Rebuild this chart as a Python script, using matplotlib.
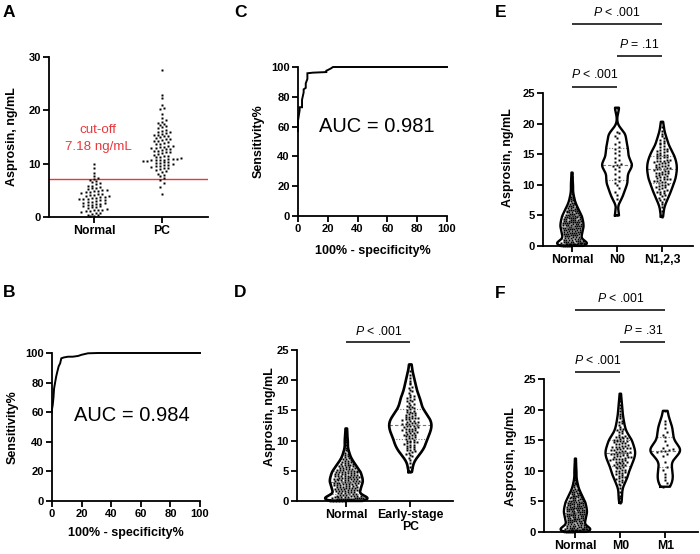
import numpy as np
import matplotlib
matplotlib.use("Agg")
import matplotlib.pyplot as plt
from matplotlib import cbook, mlab

plt.rcParams['font.family'] = ['Liberation Sans', 'DejaVu Sans']
plt.rcParams['font.weight'] = 'bold'
plt.rcParams['mathtext.fontset'] = 'custom'
plt.rcParams['mathtext.it'] = 'Liberation Sans:style=italic:weight=normal'
plt.rcParams['mathtext.rm'] = 'Liberation Sans:weight=normal'

# ---------------- data ----------------
# Panel A: column scatter
a_categories = ['Normal', 'PC']
a_normal = [0.1, 0.2, 0.3, 0.4, 0.6, 0.7, 0.8, 1.0, 1.1, 1.2, 1.3, 1.4, 1.4, 1.5, 1.7,
            1.8, 1.9, 2.0, 2.1, 2.2, 2.3, 2.4, 2.5, 2.6, 2.7, 2.8, 2.9, 3.0, 3.1, 3.2,
            3.3, 3.3, 3.4, 3.5, 3.6, 3.7, 3.8, 3.9, 4.0, 4.1, 4.2, 4.3, 4.4, 4.5, 4.6,
            4.7, 4.8, 4.9, 5.0, 5.1, 5.2, 5.4, 5.5, 5.6, 5.8, 5.9, 6.1, 6.3, 6.5, 6.7,
            7.0, 7.2, 7.3, 7.6, 8.3, 9.1, 9.9]
a_pc = [4.4, 5.7, 6.3, 6.9, 7.3, 7.6, 7.9, 8.1, 8.4, 8.6, 8.8, 9.0, 9.1, 9.2, 9.3, 9.5,
        9.6, 9.7, 9.8, 9.9, 10.1, 10.2, 10.4, 10.4, 10.5, 10.5, 10.6, 10.6, 10.7, 10.7,
        10.8, 10.8, 10.9, 11.0, 11.2, 11.3, 11.4, 11.5, 11.7, 11.8, 12.0, 12.1, 12.2,
        12.3, 12.4, 12.5, 12.7, 12.8, 12.9, 13.0, 13.1, 13.2, 13.3, 13.4, 13.6, 13.7,
        13.9, 14.0, 14.2, 14.3, 14.5, 14.6, 14.7, 14.8, 15.0, 15.1, 15.2, 15.3, 15.4,
        15.5, 15.7, 15.9, 16.0, 16.2, 16.4, 16.6, 16.8, 17.0, 17.2, 17.5, 17.7, 17.9,
        18.2, 18.5, 19.4, 20.2, 20.5, 21.0, 22.3, 22.8, 27.6]
a_cutoff = 7.18

# Panels B, C: ROC curves
b_fpr = [0, 0, 0.5, 1.0, 1.4, 2.2, 2.8, 3.6, 4.5, 5.5, 6.3, 8.0, 10.8, 14.0, 17.6, 20.0, 24.3, 31.0, 100]
b_tpr = [60, 62, 65, 70, 76, 80.6, 84, 87.4, 91, 93, 96.4, 97, 97.5, 97.5, 98, 98.8, 99.8, 100, 100]
b_auc = 0.984
c_fpr = [0, 0, 1.1, 1.1, 2.7, 2.7, 3.8, 3.8, 5.2, 5.2, 6.3, 6.3, 10.0, 19.0, 19.0, 20.1, 22.0, 23.5, 100]
c_tpr = [57, 64, 71, 73, 73, 78, 83, 85, 86, 89, 92, 95.8, 96.2, 96.6, 97.5, 98, 99, 100, 100]
c_auc = 0.981

# Panels D, E, F: violins
normal_v = [0.02, 0.04, 0.05, 0.07, 0.08, 0.1, 0.12, 0.13, 0.15, 0.17, 0.19, 0.2, 0.22,
            0.23, 0.25, 0.26, 0.28, 0.3, 0.32, 0.33, 0.35, 0.37, 0.4, 0.42, 0.44,
            0.46, 0.5, 0.52, 0.56, 0.6, 0.62, 0.66, 0.7, 0.73, 0.75, 0.8, 0.82, 0.86, 0.9,
            0.93, 0.97, 1.02, 1.08, 1.13, 1.18, 1.25, 1.3, 1.36, 1.42, 1.47, 1.52, 1.58,
            1.62, 1.68, 1.72, 1.76, 1.81, 1.85, 1.9, 1.94, 1.98, 2.02, 2.06, 2.1, 2.14,
            2.19, 2.22, 2.26, 2.3, 2.35, 2.4, 2.45, 2.5, 2.55, 2.6, 2.64, 2.68, 2.72, 2.77,
            2.8, 2.84, 2.88, 2.92, 2.95, 2.98, 3.02, 3.06, 3.1, 3.13, 3.16, 3.2, 3.24, 3.28,
            3.32, 3.36, 3.4, 3.44, 3.48, 3.52, 3.56, 3.6, 3.64, 3.68, 3.72, 3.76, 3.8, 3.84,
            3.88, 3.92, 3.95, 3.98, 4.02, 4.06, 4.1, 4.14, 4.18, 4.22, 4.26, 4.3, 4.35,
            4.4, 4.45, 4.5, 4.55, 4.6, 4.64, 4.68, 4.72, 4.76, 4.8, 4.84, 4.88, 4.92, 4.95,
            4.98, 5.03, 5.08, 5.14, 5.2, 5.25, 5.3, 5.36, 5.42, 5.48, 5.54, 5.6, 5.66,
            5.72, 5.78, 5.84, 5.9, 5.95, 5.99, 6.05, 6.14, 6.22, 6.3, 6.4, 6.5, 6.6, 6.7,
            6.8, 6.88, 6.96, 7.1, 7.3, 7.45, 7.6, 7.8, 7.95, 8.2, 8.5, 8.85, 9.3, 9.8,
            10.1, 10.6, 11.3, 12.0]
early_pc = [4.8, 5.6, 6.3, 6.8, 7.1, 7.4, 7.6, 7.8, 7.9, 8.1, 8.2, 8.4, 8.5, 8.6, 8.8, 8.9,
            8.95, 9.1, 9.2, 9.3, 9.5, 9.6, 9.7, 9.8, 9.8, 9.9, 10.0, 10.1, 10.3, 10.4, 10.5,
            10.6, 10.7, 10.8, 10.9, 10.95, 11.0, 11.1, 11.2, 11.3, 11.4, 11.5, 11.6, 11.6,
            11.7, 11.8, 11.9, 11.95, 12.0, 12.1, 12.2, 12.3, 12.4, 12.5, 12.5, 12.6, 12.7,
            12.8, 12.8, 12.9, 12.95, 13.0, 13.1, 13.2, 13.3, 13.4, 13.5, 13.6, 13.7, 13.7,
            13.8, 13.9, 13.95, 14.0, 14.2, 14.3, 14.4, 14.5, 14.6, 14.7, 14.8, 14.9, 15.1,
            15.2, 15.4, 15.5, 15.6, 15.8, 15.9, 16.1, 16.3, 16.5, 16.6, 16.8, 16.9, 17.1,
            17.3, 17.4, 17.6, 17.9, 18.2, 18.4, 18.7, 18.9, 19.3, 19.6, 19.9, 20.4, 20.8,
            21.5, 22.6]
n0 = [5.0, 7.6, 8.3, 8.9, 9.4, 9.9, 10.3, 10.6, 10.9, 11.3, 11.8, 12.2, 12.6, 12.9, 13.1,
      13.2, 13.4, 13.7, 14.0, 14.4, 14.8, 15.2, 15.5, 15.9, 16.2, 16.6, 17.0, 17.6, 18.0,
      18.4, 18.7, 22.6]
n123 = [4.8, 5.7, 6.4, 6.9, 7.2, 7.5, 7.7, 7.9, 8.1, 8.3, 8.5, 8.6, 8.8, 8.9, 9.0, 9.2,
        9.3, 9.5, 9.6, 9.7, 9.8, 9.9, 10.0, 10.1, 10.3, 10.4, 10.5, 10.6, 10.7, 10.8, 10.9,
        10.95, 11.0, 11.1, 11.2, 11.3, 11.4, 11.5, 11.6, 11.7, 11.8, 11.9, 11.95, 12.0,
        12.1, 12.2, 12.3, 12.4, 12.5, 12.6, 12.6, 12.7, 12.8, 12.9, 12.95, 13.0, 13.1,
        13.2, 13.3, 13.4, 13.5, 13.6, 13.7, 13.8, 13.9, 13.9, 13.95, 14.0, 14.1, 14.3,
        14.4, 14.5, 14.6, 14.7, 14.8, 14.9, 14.95, 15.1, 15.2, 15.3, 15.5, 15.6, 15.7,
        15.8, 15.9, 16.1, 16.3, 16.6, 16.8, 16.9, 17.1, 17.4, 17.7, 17.9, 18.3, 18.8,
        19.4, 20.3]
m0 = [4.8, 5.5, 5.9, 6.5, 7.2, 7.6, 7.9, 8.1, 8.3, 8.5, 8.7, 8.8, 8.95, 9.0, 9.2, 9.3,
      9.4, 9.6, 9.7, 9.8, 9.9, 10.0, 10.1, 10.2, 10.4, 10.5, 10.6, 10.7, 10.8, 10.9, 10.95,
      11.0, 11.1, 11.2, 11.3, 11.4, 11.5, 11.5, 11.6, 11.7, 11.8, 11.9, 11.9, 11.95, 12.0,
      12.1, 12.2, 12.2, 12.3, 12.4, 12.5, 12.6, 12.6, 12.7, 12.8, 12.8, 12.9, 12.95,
      12.95, 13.0, 13.1, 13.1, 13.2, 13.3, 13.4, 13.4, 13.5, 13.6, 13.7, 13.7, 13.8,
      13.9, 13.9, 13.95, 14.0, 14.1, 14.2, 14.3, 14.4, 14.5, 14.6, 14.7, 14.8, 14.8,
      14.9, 14.95, 15.0, 15.1, 15.2, 15.3, 15.4, 15.5, 15.5, 15.6, 15.7, 15.8, 16.1,
      16.3, 16.5, 16.6, 16.8, 16.9, 17.2, 17.5, 17.8, 17.9, 18.2, 18.6, 18.9, 19.3,
      19.8, 20.3, 20.8, 21.4, 22.6]
m1 = [7.4, 8.0, 8.5, 9.0, 9.5, 10.2, 10.6, 11.5, 12.5, 12.8, 13.0, 13.2, 13.3, 13.4,
      13.6, 13.8, 14.2, 14.8, 15.5, 15.9, 16.4, 17.0, 17.6, 18.2, 19.8]

d_categories = ['Normal', 'Early-stage\nPC']
e_categories = ['Normal', 'N0', 'N1,2,3']
f_categories = ['Normal', 'M0', 'M1']
d_pvals = [r'$\mathit{P}$ < .001']
e_pvals = [r'$\mathit{P}$ < .001', r'$\mathit{P}$ = .11', r'$\mathit{P}$ < .001']
f_pvals = [r'$\mathit{P}$ < .001', r'$\mathit{P}$ = .31', r'$\mathit{P}$ < .001']

# ---------------- drawing ----------------
W, H = 700, 554
fig = plt.figure(figsize=(W / 100, H / 100), dpi=100)

TICK_FS = 8
CAT_FS = 8.8
LAB_FS = 9


def ax_px(x0, y0, x1, y1):
    return fig.add_axes([x0 / W, 1 - y1 / H, (x1 - x0) / W, (y1 - y0) / H])


def style(ax):
    for s in ('top', 'right'):
        ax.spines[s].set_visible(False)
    for s in ('left', 'bottom'):
        ax.spines[s].set_linewidth(1.3)
    ax.tick_params(width=1.3, length=4, labelsize=TICK_FS, pad=2)


def bold_ticks(ax):
    for t in ax.get_xticklabels() + ax.get_yticklabels():
        t.set_fontweight('bold')


def column_scatter(ax, vals, center, bin_h, dx, ms=1.7):
    v = np.asarray(vals, float)
    rows = np.round(v / bin_h).astype(int)
    x = np.zeros_like(v)
    for r in np.unique(rows):
        idx = np.where(rows == r)[0]
        n = len(idx)
        x[idx] = center + (np.arange(n) - (n - 1) / 2) * dx
    ax.plot(x, v, ls='none', marker='s', ms=ms, mfc='black', mec='none', zorder=3, clip_on=False)


def violin(ax, vals, pos, bw, bin_h, dx, width=0.66, lw=1.7, ms=1.6):
    v = np.asarray(vals, float)
    st = cbook.violin_stats([v], lambda X, c: mlab.GaussianKDE(X, bw).evaluate(c), points=300)[0]
    y = st['coords']
    hw = st['vals'] / st['vals'].max() * width / 2
    ax.fill_betweenx(y, pos - hw, pos + hw, color='white', lw=0, zorder=2)
    xs = np.concatenate([pos - hw, (pos + hw)[::-1], [pos - hw[0]]])
    ys = np.concatenate([y, y[::-1], [y[0]]])
    ax.plot(xs, ys, color='black', lw=lw, zorder=4, solid_joinstyle='round', clip_on=False)
    q1, med, q3 = np.percentile(v, [25, 50, 75])
    for q, ls in ((q1, (0, (1, 1.5))), (med, (0, (3, 2))), (q3, (0, (1, 1.5)))):
        w = np.interp(q, y, hw)
        ax.plot([pos - w, pos + w], [q, q], color='0.45', lw=0.8, ls=ls, zorder=3.5)
    rows = np.round(v / bin_h).astype(int)
    x = np.zeros_like(v)
    for r in np.unique(rows):
        idx = np.where(rows == r)[0]
        n = len(idx)
        w = np.interp(v[idx].mean(), y, hw)
        step = min(dx, 1.7 * w / max(n, 1))
        x[idx] = pos + (np.arange(n) - (n - 1) / 2) * step
    ax.plot(x, v, ls='none', marker='s', ms=ms, mfc='black', mec='none', zorder=3, clip_on=False)


def sig(ax, x0, x1, ybar, ytext, label):
    ax.plot([x0, x1], [ybar, ybar], color='black', lw=1.1, clip_on=False, solid_capstyle='butt')
    ax.text((x0 + x1) / 2, ytext, label, ha='center', va='center', fontsize=8.8,
            fontweight='normal', clip_on=False)


def letter(x, y, s):
    fig.text(x / W, 1 - y / H, s, fontsize=12.5, fontweight='bold', ha='left', va='top')


# Panel A
axA = ax_px(49, 57, 208, 217)
style(axA)
column_scatter(axA, a_normal, 0, 0.6, 0.062)
column_scatter(axA, a_pc, 1, 0.6, 0.062)
axA.axhline(a_cutoff, color='#e8383d', lw=1.0, zorder=2)
axA.text(0.06, 16.3, 'cut-off', color='#e8383d', ha='center', va='center', fontsize=9.6, fontweight='normal')
axA.text(0.06, 13.2, '%.2f ng/mL' % a_cutoff, color='#e8383d', ha='center', va='center', fontsize=9.6, fontweight='normal')
axA.set_xlim(-0.662, 1.676)
axA.set_ylim(0, 30)
axA.set_yticks([0, 10, 20, 30])
axA.set_xticks([0, 1])
axA.set_xticklabels(a_categories, fontsize=CAT_FS, fontweight='bold')
axA.set_ylabel('Asprosin, ng/mL', fontsize=LAB_FS, fontweight='bold')
axA.yaxis.set_label_coords(-0.195, 0.5)
bold_ticks(axA)

# Panels B and C
for (x0, y0, x1, y1), fpr, tpr, auc, txy, ylc, xlc in (
        ((52, 353, 200, 501), b_fpr, b_tpr, b_auc, (54, 58), -0.228, -0.174),
        ((298, 67, 447, 216), c_fpr, c_tpr, c_auc, (53, 60), -0.221, -0.195)):
    ax = ax_px(x0, y0, x1, y1)
    style(ax)
    ax.plot(fpr, tpr, color='black', lw=1.4, clip_on=False, solid_joinstyle='miter')
    ax.set_xlim(0, 100)
    ax.set_ylim(0, 100)
    ax.set_xticks(range(0, 101, 20))
    ax.set_yticks(range(0, 101, 20))
    ax.text(txy[0], txy[1], 'AUC = %.3f' % auc, ha='center', va='center', fontsize=14.5, fontweight='normal')
    ax.set_ylabel('Sensitivity%', fontsize=LAB_FS, fontweight='bold')
    ax.set_xlabel('100% - specificity%', fontsize=LAB_FS, fontweight='bold')
    ax.yaxis.set_label_coords(ylc, 0.5)
    ax.xaxis.set_label_coords(0.5, xlc)
    bold_ticks(ax)

# Panel D
axD = ax_px(297, 350, 453, 501)
style(axD)
violin(axD, normal_v, 0, 0.17, 0.35, 0.05, lw=1.9)
violin(axD, early_pc, 1, 0.2, 0.4, 0.05, lw=1.9)
sig(axD, 0, 1, 26.3, 28.0, d_pvals[0])
axD.set_xlim(-0.77, 1.667)
axD.set_ylim(0, 25)
axD.set_yticks(range(0, 26, 5))
axD.set_xticks([0, 1])
axD.set_xticklabels(d_categories, fontsize=CAT_FS, linespacing=1.0, fontweight='bold')
axD.set_ylabel('Asprosin, ng/mL', fontsize=LAB_FS, fontweight='bold')
axD.yaxis.set_label_coords(-0.135, 0.56)
bold_ticks(axD)

# Panel E
axE = ax_px(543, 93, 693, 246)
style(axE)
violin(axE, normal_v, 0, 0.17, 0.35, 0.07)
violin(axE, n0, 1, 0.22, 0.7, 0.09)
violin(axE, n123, 2, 0.22, 0.45, 0.07)
sig(axE, 0, 2, 36.2, 38.1, e_pvals[0])
sig(axE, 1, 2, 31.1, 33.0, e_pvals[1])
sig(axE, 0, 1, 26.0, 28.0, e_pvals[2])
axE.set_xlim(-0.644, 2.689)
axE.set_ylim(0, 25)
axE.set_yticks(range(0, 26, 5))
axE.set_xticks([0, 1, 2])
axE.set_xticklabels(e_categories, fontsize=CAT_FS, fontweight='bold')
axE.set_ylabel('Asprosin, ng/mL', fontsize=LAB_FS, fontweight='bold')
axE.yaxis.set_label_coords(-0.196, 0.58)
bold_ticks(axE)

# Panel F
axF = ax_px(544, 379, 698, 532)
style(axF)
violin(axF, normal_v, 0, 0.17, 0.35, 0.07)
violin(axF, m0, 1, 0.22, 0.4, 0.07)
violin(axF, m1, 2, 0.3, 0.7, 0.09)
sig(axF, 0, 2, 36.3, 38.1, f_pvals[0])
sig(axF, 1, 2, 31.1, 32.9, f_pvals[1])
sig(axF, 0, 1, 26.1, 28.1, f_pvals[2])
axF.set_xlim(-0.70, 2.73)
axF.set_ylim(0, 25)
axF.set_yticks(range(0, 26, 5))
axF.set_xticks([0, 1, 2])
axF.set_xticklabels(f_categories, fontsize=CAT_FS, fontweight='bold')
axF.set_ylabel('Asprosin, ng/mL', fontsize=LAB_FS, fontweight='bold')
axF.yaxis.set_label_coords(-0.177, 0.49)
bold_ticks(axF)

letter(3, 5, 'A')
letter(3, 285, 'B')
letter(234, 5, 'C')
letter(234, 285, 'D')
letter(495, 5, 'E')
letter(495, 286, 'F')

fig.savefig('out.png', dpi=100)
